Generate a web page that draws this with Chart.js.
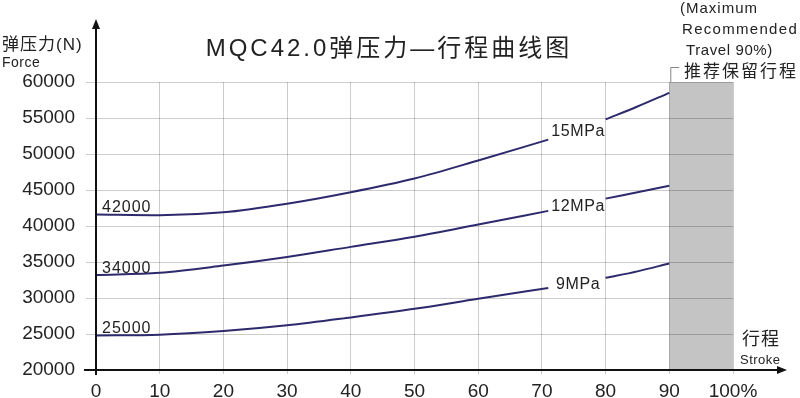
<!DOCTYPE html>
<html lang="zh">
<head>
  <meta charset="UTF-8">
  <title>MQC42.0弹压力—行程曲线图</title>
  <script src="https://cdn.jsdelivr.net/npm/chart.js"></script>
  <style>
    html, body { margin: 0; padding: 0; background: #fff; }
    canvas { display: block; }
  </style>
</head>
<body>
  <canvas id="grafico" width="800" height="398"></canvas>

  <script>
    // dados
    const strokes   = [0, 10, 20, 30, 40, 50, 60, 71, 75, 80, 85, 90];
    const force15   = [41600, 41500, 41900, 43100, 44700, 46600, 49100, 52000, null, 54800, 56600, 58500];
    const force12   = [33200, 33500, 34500, 35700, 37100, 38500, 40200, 42100, null, 43800, 44700, 45600];
    const force9    = [24800, 24900, 25400, 26200, 27300, 28500, 29900, 31400, null, 32800, 33700, 34800];
    const startLabels = ['42000', '34000', '25000'];
    const seriesNames = ['15MPa', '12MPa', '9MPa'];
    const xTicks = [0, 10, 20, 30, 40, 50, 60, 70, 80, 90, 100];
    const yTicks = [20000, 25000, 30000, 35000, 40000, 45000, 50000, 55000, 60000];
    const reserved = [90, 100];

    const FONT = '"Liberation Sans", Arial, sans-serif';
    const CJK = '"Liberation Sans", "Noto Sans CJK SC", sans-serif';
    const cor = '#2c2a6c';

    function pontos(vals) {
      return strokes.map((s, i) => ({ x: s, y: vals[i] }));
    }

    function serie(vals) {
      return {
        data: pontos(vals),
        borderColor: cor,
        borderWidth: 2,
        pointRadius: 0,
        cubicInterpolationMode: 'monotone',
        spanGaps: false
      };
    }

    function texto(ctx, s, x, y, font, align, spacing) {
      ctx.font = font;
      ctx.textAlign = align || 'left';
      ctx.letterSpacing = (spacing || 0) + 'px';
      ctx.fillText(s, x, y);
    }

    const decor = {
      id: 'decor',
      beforeDraw(chart) {
        const { ctx, chartArea: a, scales: { x } } = chart;
        const x0 = x.getPixelForValue(reserved[0]);
        const x1 = x.getPixelForValue(reserved[1]);
        ctx.save();
        ctx.fillStyle = '#c4c4c4';
        ctx.fillRect(x0, a.top, x1 - x0, a.bottom - a.top);
        ctx.restore();
      },
      afterDraw(chart) {
        const { ctx, chartArea: a, scales: { x, y } } = chart;
        ctx.save();

        // eixos com setas
        ctx.strokeStyle = '#111';
        ctx.fillStyle = '#111';
        ctx.lineWidth = 2;
        ctx.beginPath();
        ctx.moveTo(a.left, a.bottom + 5);
        ctx.lineTo(a.left, 26);
        ctx.moveTo(a.left - 12, a.bottom);
        ctx.lineTo(779, a.bottom);
        ctx.stroke();
        ctx.beginPath();
        ctx.moveTo(a.left, 19);
        ctx.lineTo(a.left - 4, 29);
        ctx.lineTo(a.left + 4, 29);
        ctx.closePath();
        ctx.fill();
        ctx.beginPath();
        ctx.moveTo(787, a.bottom);
        ctx.lineTo(777, a.bottom - 4);
        ctx.lineTo(777, a.bottom + 4);
        ctx.closePath();
        ctx.fill();

        // colchete da faixa reservada
        const xr = x.getPixelForValue(reserved[0]) + 1;
        ctx.strokeStyle = '#888';
        ctx.lineWidth = 1;
        ctx.beginPath();
        ctx.moveTo(xr + 0.5, a.top);
        ctx.lineTo(xr + 0.5, 67.5);
        ctx.lineTo(xr + 9, 67.5);
        ctx.stroke();

        ctx.fillStyle = '#222';
        ctx.textBaseline = 'alphabetic';

        // títulos
        texto(ctx, 'MQC42.0弹压力—行程曲线图', 389, 56, '24px ' + CJK, 'center', 3);
        texto(ctx, '弹压力(N)', 2, 50, '17px ' + CJK, 'left', 1);
        texto(ctx, 'Force', 2, 67, '14px ' + FONT, 'left', 0.5);
        texto(ctx, '行程', 742, 345, '18px ' + CJK, 'left', 1);
        texto(ctx, 'Stroke', 740, 364, '13px ' + FONT, 'left', 0.5);

        texto(ctx, '(Maximum', 680, 13, '15px ' + FONT, 'left', 1);
        texto(ctx, 'Recommended', 682, 34, '15px ' + FONT, 'left', 1.3);
        texto(ctx, 'Travel 90%)', 686, 55, '15px ' + FONT, 'left', 0.6);
        texto(ctx, '推荐保留行程', 684, 77, '17px ' + CJK, 'left', 2);

        // rótulos das curvas
        const series = [force15, force12, force9];
        series.forEach((vals, i) => {
          const yp = y.getPixelForValue(vals[0]);
          texto(ctx, startLabels[i], x.getPixelForValue(0) + 6, yp - 2, '16px ' + FONT, 'left', 1);
          const ym = (y.getPixelForValue(vals[7]) + y.getPixelForValue(vals[9])) / 2;
          texto(ctx, seriesNames[i], x.getPixelForValue(75.7), ym + 6, '16px ' + FONT, 'center', 0.6);
        });

        ctx.restore();
      }
    };

    const ctx = document.getElementById('grafico').getContext('2d');

    new Chart(ctx, {
      type: 'line',
      data: {
        datasets: [serie(force15), serie(force12), serie(force9)]
      },
      options: {
        responsive: false,
        animation: false,
        events: [],
        layout: { padding: { left: 0, right: 67, top: 82, bottom: 0 } },
        plugins: {
          legend: { display: false },
          tooltip: { enabled: false },
          title: { display: false }
        },
        scales: {
          x: {
            type: 'linear',
            min: xTicks[0],
            max: xTicks[xTicks.length - 1],
            afterBuildTicks: s => { s.ticks = xTicks.map(v => ({ value: v })); },
            afterFit: s => { s.height = 28; },
            border: { display: false },
            grid: { color: 'rgba(0,0,0,0.2)', lineWidth: 1, tickLength: 4 },
            ticks: {
              autoSkip: false,
              maxRotation: 0,
              padding: 6,
              color: '#222',
              font: { family: FONT, size: 19 },
              callback: v => v === 100 ? '100%' : v
            }
          },
          y: {
            min: yTicks[0],
            max: yTicks[yTicks.length - 1],
            afterBuildTicks: s => { s.ticks = yTicks.map(v => ({ value: v })); },
            afterFit: s => { s.width = 96; },
            border: { display: false },
            grid: { color: 'rgba(0,0,0,0.2)', lineWidth: 1, tickLength: 10 },
            ticks: {
              padding: 11,
              color: '#222',
              font: { family: FONT, size: 19 },
              callback: v => String(v)
            }
          }
        }
      },
      plugins: [decor]
    });
  </script>
</body>
</html>
